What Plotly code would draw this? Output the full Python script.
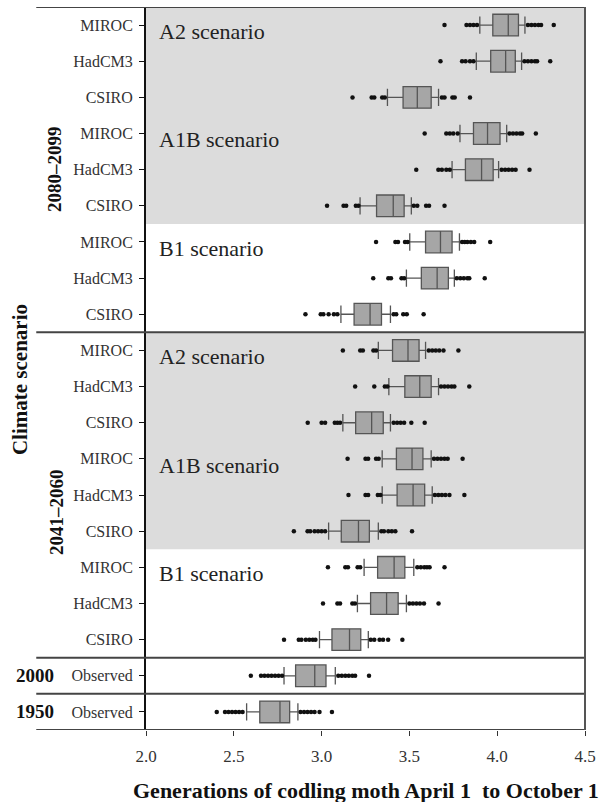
import plotly.graph_objects as go

# ---------------- data (rows listed top to bottom) ----------------
row_labels = ["MIROC", "HadCM3", "CSIRO", "MIROC", "HadCM3", "CSIRO", "MIROC", "HadCM3", "CSIRO",
              "MIROC", "HadCM3", "CSIRO", "MIROC", "HadCM3", "CSIRO", "MIROC", "HadCM3", "CSIRO",
              "Observed", "Observed"]

lower_whisker = [3.901, 3.881, 3.375, 3.788, 3.743, 3.219, 3.502, 3.483, 3.110,
                 3.323, 3.383, 3.121, 3.345, 3.345, 3.040, 3.242, 3.204, 2.988,
                 2.786, 2.573]
q1 = [3.975, 3.963, 3.464, 3.865, 3.819, 3.313, 3.592, 3.568, 3.185,
      3.404, 3.474, 3.194, 3.426, 3.430, 3.112, 3.319, 3.279, 3.059,
      2.852, 2.648]
median = [4.063, 4.048, 3.545, 3.945, 3.911, 3.408, 3.677, 3.658, 3.276,
          3.492, 3.559, 3.285, 3.515, 3.521, 3.210, 3.413, 3.370, 3.159,
          2.961, 2.763]
q3 = [4.121, 4.103, 3.624, 4.016, 3.977, 3.470, 3.743, 3.722, 3.341,
      3.555, 3.624, 3.351, 3.577, 3.587, 3.272, 3.474, 3.436, 3.223,
      3.025, 2.818]
upper_whisker = [4.158, 4.139, 3.666, 4.054, 4.008, 3.511, 3.785, 3.756, 3.392,
                 3.592, 3.666, 3.392, 3.624, 3.630, 3.323, 3.525, 3.483, 3.266,
                 3.078, 2.865]

outliers = [
    [3.700, 3.825, 3.845, 3.865, 3.885, 4.175, 4.195, 4.215, 4.235, 4.250, 4.322],
    [3.677, 3.800, 3.820, 3.845, 3.865, 4.155, 4.175, 4.195, 4.215, 4.227, 4.302],
    [3.176, 3.285, 3.300, 3.345, 3.360, 3.685, 3.700, 3.745, 3.758, 3.845],
    [3.587, 3.710, 3.730, 3.750, 3.775, 4.070, 4.090, 4.110, 4.130, 4.142, 4.220],
    [3.539, 3.665, 3.685, 3.710, 3.730, 4.025, 4.045, 4.065, 4.085, 4.105, 4.184],
    [3.031, 3.125, 3.140, 3.195, 3.210, 3.525, 3.545, 3.595, 3.612, 3.700],
    [3.310, 3.420, 3.435, 3.475, 3.490, 3.800, 3.815, 3.830, 3.850, 3.869, 3.960],
    [3.294, 3.380, 3.395, 3.455, 3.470, 3.770, 3.790, 3.810, 3.830, 3.841, 3.929],
    [2.908, 2.995, 3.010, 3.040, 3.070, 3.090, 3.410, 3.425, 3.465, 3.485, 3.581],
    [3.121, 3.220, 3.235, 3.295, 3.310, 3.610, 3.630, 3.650, 3.670, 3.694, 3.779],
    [3.191, 3.300, 3.360, 3.375, 3.680, 3.700, 3.720, 3.740, 3.756, 3.841],
    [2.921, 3.000, 3.020, 3.075, 3.090, 3.105, 3.410, 3.430, 3.450, 3.470, 3.511, 3.587],
    [3.148, 3.250, 3.265, 3.310, 3.325, 3.640, 3.660, 3.680, 3.700, 3.718, 3.803],
    [3.153, 3.250, 3.265, 3.320, 3.335, 3.645, 3.665, 3.685, 3.705, 3.728, 3.813],
    [2.842, 2.920, 2.935, 2.960, 2.980, 3.000, 3.020, 3.340, 3.355, 3.380, 3.400, 3.420, 3.515],
    [3.036, 3.135, 3.150, 3.205, 3.220, 3.545, 3.565, 3.585, 3.600, 3.615, 3.700],
    [3.008, 3.090, 3.105, 3.175, 3.190, 3.500, 3.520, 3.540, 3.560, 3.583, 3.666],
    [2.786, 2.870, 2.885, 2.910, 2.930, 2.950, 2.965, 3.280, 3.300, 3.330, 3.350, 3.379, 3.460],
    [2.597, 2.655, 2.675, 2.695, 2.715, 2.735, 2.755, 2.775, 3.095, 3.115, 3.135, 3.155, 3.175, 3.191, 3.270],
    [2.403, 2.450, 2.470, 2.490, 2.510, 2.530, 2.550, 2.880, 2.900, 2.920, 2.940, 2.960, 2.988, 3.059],
]

scenario_labels = ["A2 scenario", "A1B scenario", "B1 scenario",
                   "A2 scenario", "A1B scenario", "B1 scenario"]
scenario_rows = [0, 3, 6, 9, 12, 15]

x_ticks = [2.0, 2.5, 3.0, 3.5, 4.0, 4.5]

# ---------------- figure ----------------
FONT = "Liberation Serif, Times New Roman, DejaVu Serif, serif"
positions = list(range(len(row_labels)))

fig = go.Figure()

fig.add_trace(go.Box(
    orientation="h",
    y=positions,
    q1=q1, median=median, q3=q3,
    lowerfence=lower_whisker, upperfence=upper_whisker,
    width=0.6, whiskerwidth=0.8,
    fillcolor="#a6a6a6",
    line=dict(color="#555555", width=1.3),
    boxpoints=False,
    hoverinfo="skip",
    showlegend=False,
))

ox, oy = [], []
for i, vals in enumerate(outliers):
    ox.extend(vals)
    oy.extend([i] * len(vals))
fig.add_trace(go.Scatter(
    x=ox, y=oy, mode="markers",
    marker=dict(color="#111111", size=4.5),
    hoverinfo="skip", showlegend=False,
))

shapes = []
# grey scenario bands
for y0, y1 in [(-0.5, 5.5), (8.5, 14.5)]:
    shapes.append(dict(type="rect", xref="paper", yref="y", x0=0, x1=1, y0=y0, y1=y1,
                       fillcolor="#dcdcdc", line=dict(width=0), layer="below"))
# horizontal separator lines extending to the left
for yy in [-0.5, 8.5, 17.5, 18.5, 19.5]:
    shapes.append(dict(type="line", xref="paper", yref="y", x0=-0.25, x1=1, y0=yy, y1=yy,
                       line=dict(color="#444444", width=2)))
# right frame
shapes.append(dict(type="line", xref="paper", yref="y", x0=1, x1=1, y0=-0.5, y1=19.5,
                   line=dict(color="#555555", width=2)))

annotations = []
for lab, r in zip(scenario_labels, scenario_rows):
    annotations.append(dict(text=lab, xref="paper", yref="y", x=0.026, y=r + 0.17,
                            xanchor="left", yanchor="middle", showarrow=False,
                            font=dict(family=FONT, size=22, color="#222222")))
bold = dict(family=FONT, size=19, color="#111111")
annotations += [
    dict(text="<b>2080–2099</b>", xref="paper", yref="y", x=-0.207, y=3.98, textangle=-90,
         xanchor="center", yanchor="middle", showarrow=False, font=bold),
    dict(text="<b>2041–2060</b>", xref="paper", yref="y", x=-0.205, y=13.47, textangle=-90,
         xanchor="center", yanchor="middle", showarrow=False, font=bold),
    dict(text="<b>2000</b>", xref="paper", yref="y", x=-0.253, y=18, xanchor="center",
         yanchor="middle", showarrow=False, font=bold),
    dict(text="<b>1950</b>", xref="paper", yref="y", x=-0.253, y=19, xanchor="center",
         yanchor="middle", showarrow=False, font=bold),
    dict(text="<b>Climate scenario</b>", xref="paper", yref="y", x=-0.287, y=9.82, textangle=-90,
         xanchor="center", yanchor="middle", showarrow=False,
         font=dict(family=FONT, size=21, color="#111111")),
    dict(text="<b>Generations of codling moth April 1  to October 1</b>", xref="paper", yref="paper",
         x=0.5, y=-0.083, xanchor="center", yanchor="middle", showarrow=False,
         font=dict(family=FONT, size=22, color="#111111")),
]

fig.update_layout(
    width=603, height=802,
    margin=dict(l=146, r=14, t=7, b=72, pad=0),
    plot_bgcolor="white", paper_bgcolor="white",
    shapes=shapes, annotations=annotations,
    font=dict(family=FONT, color="#333333"),
    showlegend=False,
)
fig.update_xaxes(
    range=[2.0, 4.5], tickvals=x_ticks, ticktext=[f"{v:.1f}" for v in x_ticks],
    ticks="outside", ticklen=5, tickcolor="#333333", tickwidth=1.3,
    showgrid=False, zeroline=False, showline=False,
    tickfont=dict(family=FONT, size=17, color="#333333"),
    ticklabelstandoff=6,
)
fig.update_yaxes(
    range=[19.5, -0.5], tickvals=positions, ticktext=row_labels,
    ticks="outside", ticklen=5, tickcolor="#111111", tickwidth=1.3,
    showgrid=False, zeroline=False, showline=True, linecolor="#111111", linewidth=2,
    tickfont=dict(family=FONT, size=16, color="#333333"),
    ticklabelstandoff=3,
)

fig.write_html("out.html", config={"displayModeBar": False},
               post_script="document.body.style.margin='0';")
